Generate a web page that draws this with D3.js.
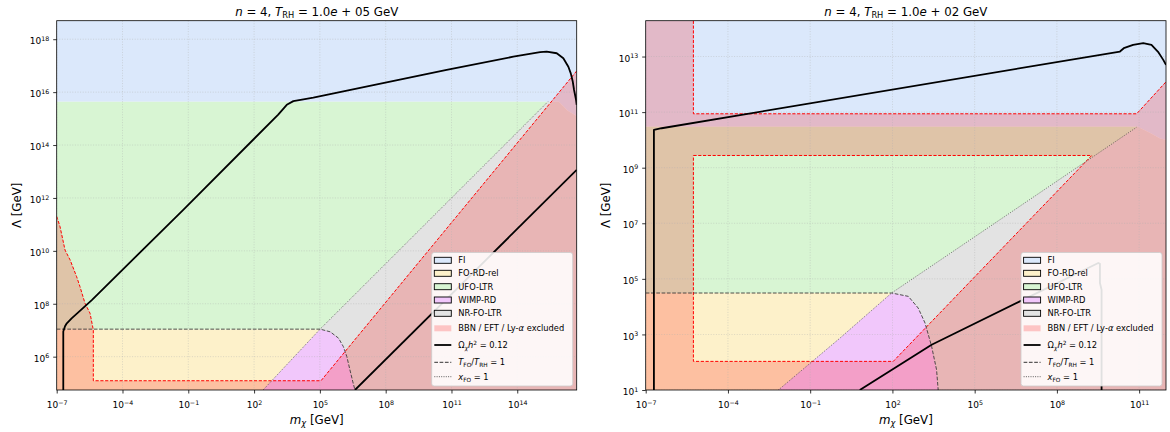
<!DOCTYPE html>
<html lang="en">
<head>
<meta charset="UTF-8"/>
<title>DM production regimes, n = 4</title>
<script src="https://d3js.org/d3.v7.min.js"></script>
<style>
    body { margin: 0; background: #fff; }
    svg text { font-family: "DejaVu Sans", sans-serif; white-space: pre; fill: #000; }
</style>
</head>
<body>
<script>
// every point is [log10(m_chi / GeV), log10(Lambda / GeV)]

// ---- left panel, T_RH = 1e5 GeV
var xDomL = [-7, 16.71];
var yDomL = [4.74, 18.70];
var xTicksL = [-7, -4, -1, 2, 5, 8, 11, 14];
var yTicksL = [6, 8, 10, 12, 14, 16, 18];
var fiL = [[-7, 18.7], [16.71, 18.7], [16.71, 15.1], [16.3, 15.3], [15.9, 15.64], [-7, 15.64]];
var ufoL = [[-7, 15.64], [15.4, 15.64], [5.01, 7.04], [-7, 7.04]];
var foL = [[-7, 7.04], [5.01, 7.04], [2.41, 4.74], [-7, 4.74]];
var wimpL = [[2.41, 4.74], [5.01, 7.04], [5.47, 6.94], [5.85, 6.70], [6.07, 6.38], [6.23, 6.0], [6.37, 5.5], [6.52, 4.99], [6.60, 4.74]];
var nrL = [[5.01, 7.04], [15.4, 15.64], [15.9, 15.64], [16.3, 15.3], [16.71, 15.1], [16.71, 4.74],
           [6.60, 4.74], [6.52, 4.99], [6.37, 5.5], [6.23, 6.0], [6.07, 6.38], [5.85, 6.70], [5.47, 6.94]];
var exclEdgeL = [[-7, 11.3], [-6.97, 11.23], [-6.85, 10.92], [-6.62, 10.03], [-6.39, 9.66], [-6.09, 9.02],
                 [-5.94, 8.65], [-5.71, 8.02], [-5.48, 7.64], [-5.33, 7.01], [-5.33, 5.09], [5.05, 5.09],
                 [16.71, 16.80]];
var allowedL = exclEdgeL.concat([[16.71, 18.7], [-7, 18.7]]);
var dottedL = [[2.41, 4.74], [5.01, 7.04], [15.4, 15.64]];
var dashedL = [[-7, 7.04], [5.01, 7.04], [5.47, 6.94], [5.85, 6.70], [6.07, 6.38], [6.23, 6.0], [6.37, 5.5], [6.52, 4.99], [6.60, 4.74]];
var omegaL = [[-6.70, 4.74], [-6.70, 6.95], [-6.62, 7.15], [-6.54, 7.26], [-6.32, 7.45], [-5.40, 8.14], [-1.23, 11.55],
              [3.1, 15.15], [3.49, 15.52], [3.79, 15.66], [4.25, 15.73], [4.70, 15.79], [10.78, 16.84], [13.82, 17.34],
              [15.04, 17.51], [15.34, 17.53], [15.80, 17.47], [16.10, 17.28], [16.33, 16.96], [16.44, 16.71],
              [16.53, 16.40], [16.59, 16.08], [16.68, 15.71], [16.71, 15.52]];
var omegaL2 = [[6.60, 4.74], [16.71, 13.06]];

// ---- right panel, T_RH = 1e2 GeV
var xDomR = [-7, 11.98];
var yDomR = [1, 14.29];
var xTicksR = [-7, -4, -1, 2, 5, 8, 11];
var yTicksR = [1, 3, 5, 7, 9, 11, 13];
var fiR = [[-7, 14.29], [11.98, 14.29], [11.98, 10.0], [11.75, 10.06], [11.39, 10.26], [10.95, 10.47], [-7, 10.47]];
var ufoR = [[-7, 10.47], [10.95, 10.47], [1.97, 4.49], [-7, 4.49]];
var foR = [[-7, 4.49], [1.97, 4.49], [0.09, 2.87], [-2.16, 1], [-7, 1]];
var wimpR = [[-2.16, 1], [0.09, 2.87], [1.97, 4.49], [2.58, 4.37], [2.94, 3.95], [3.19, 3.41], [3.43, 2.57], [3.61, 1.73], [3.67, 1]];
var nrR = [[1.97, 4.49], [10.95, 10.47], [11.39, 10.26], [11.75, 10.06], [11.98, 10.0], [11.98, 1],
           [3.67, 1], [3.61, 1.73], [3.43, 2.57], [3.19, 3.41], [2.94, 3.95], [2.58, 4.37]];
var exclEdgeRA = [[-5.26, 14.29], [-5.26, 10.94], [10.91, 10.94], [11.98, 12.09]];
var exclEdgeRB = [[-5.26, 9.44], [9.27, 9.44], [2.03, 2.03], [-5.26, 2.03], [-5.26, 9.44]];
var allowedR = exclEdgeRA.concat([[11.98, 14.29]]);
var dottedR = [[-2.16, 1], [0.09, 2.87], [1.97, 4.49], [10.9, 10.45]];
var dashedR = [[-7, 4.49], [1.97, 4.49], [2.58, 4.37], [2.94, 3.95], [3.19, 3.41], [3.43, 2.57], [3.61, 1.73], [3.67, 1]];
var omegaR = [[-6.70, 1], [-6.70, 10.36], [-6.42, 10.42], [10.30, 13.18], [10.44, 13.30], [10.78, 13.42],
              [11.15, 13.48], [11.45, 13.42], [11.69, 13.17], [11.88, 12.88], [11.98, 12.70]];
var omegaR2 = [[0.81, 1], [3.43, 2.63], [6.65, 4.19], [9.51, 5.57], [9.57, 5.54], [9.57, 4.85], [9.63, 4.61], [9.63, 1]];

var regionNames = ["FI", "FO-RD-rel", "UFO-LTR", "WIMP-RD", "NR-FO-LTR"];

// styles
var col = {
    fi: "#dbe8fb", fo: "#fdf1ca", ufo: "#d8f5d3", wimp: "#f1c7fb", nr: "#e3e3e3",
    excl: "rgba(255,0,0,0.2)"
};
var regionCols = [col.fi, col.fo, col.ufo, col.wimp, col.nr];

var svg = d3.select("body").append("svg").attr("width", 1170).attr("height", 432);

// text with italic / subscript / superscript runs
function runs(text, list, size) {
    var shift = 0;
    list.forEach(function (r) {
        var k = r[1] || "";
        var ts = text.append("tspan").text(r[0]);
        if (k.indexOf("i") >= 0) ts.attr("font-style", "italic");
        var want = k.indexOf("b") >= 0 ? size * 0.22 : (k.indexOf("p") >= 0 ? -size * 0.38 : 0);
        if (want !== shift) { ts.attr("dy", want - shift); shift = want; }
        if (want !== 0) ts.attr("font-size", size * 0.7);
    });
}

function powLabel(text, e, size) {
    var s = e < 0 ? "\u2212" + (-e) : "" + e;
    runs(text, [["10"], [s, "p"]], size);
}

function drawPanel(p) {
    var x = d3.scaleLog().domain(p.xDom.map(function (e) { return Math.pow(10, e); })).range([p.left, p.right]);
    var y = d3.scaleLog().domain(p.yDom.map(function (e) { return Math.pow(10, e); })).range([p.bottom, p.top]);
    var line = d3.line()
        .x(function (d) { return x(Math.pow(10, d[0])); })
        .y(function (d) { return y(Math.pow(10, d[1])); });

    svg.append("clipPath").attr("id", "clip" + p.id)
        .append("rect")
        .attr("x", p.left).attr("y", p.top)
        .attr("width", p.right - p.left).attr("height", p.bottom - p.top);

    var plot = svg.append("g").attr("clip-path", "url(#clip" + p.id + ")");

    p.regions.forEach(function (r, i) {
        plot.append("path").attr("d", line(r) + "Z").attr("fill", regionCols[i]);
    });

    // excluded area = whole frame minus the allowed windows
    var frame = "M" + p.left + "," + p.top + "H" + p.right + "V" + p.bottom + "H" + p.left + "Z";
    plot.append("path")
        .attr("d", frame + p.allowed.map(function (a) { return line(a) + "Z"; }).join(""))
        .attr("fill-rule", "evenodd")
        .attr("fill", col.excl);

    // grid
    p.xTicks.forEach(function (e) {
        plot.append("line")
            .attr("x1", x(Math.pow(10, e))).attr("x2", x(Math.pow(10, e)))
            .attr("y1", p.top).attr("y2", p.bottom)
            .attr("stroke", "#b0b0b0").attr("stroke-width", 0.8)
            .attr("stroke-dasharray", "1,1.6").attr("opacity", 0.55);
    });
    p.yTicks.forEach(function (e) {
        plot.append("line")
            .attr("y1", y(Math.pow(10, e))).attr("y2", y(Math.pow(10, e)))
            .attr("x1", p.left).attr("x2", p.right)
            .attr("stroke", "#b0b0b0").attr("stroke-width", 0.8)
            .attr("stroke-dasharray", "1,1.6").attr("opacity", 0.55);
    });

    p.edges.forEach(function (e) {
        plot.append("path").attr("d", line(e)).attr("fill", "none")
            .attr("stroke", "#ff0000").attr("stroke-width", 1)
            .attr("stroke-dasharray", "3.2,1.6");
    });

    plot.append("path").attr("d", line(p.dotted)).attr("fill", "none")
        .attr("stroke", "#333").attr("stroke-width", 0.8).attr("stroke-dasharray", "1,1.3").attr("opacity", 0.85);
    plot.append("path").attr("d", line(p.dashed)).attr("fill", "none")
        .attr("stroke", "#333").attr("stroke-width", 1).attr("stroke-dasharray", "3.7,1.6").attr("opacity", 0.85);

    p.omega.forEach(function (o) {
        plot.append("path").attr("d", line(o)).attr("fill", "none")
            .attr("stroke", "#000").attr("stroke-width", 1.8).attr("stroke-linejoin", "round");
    });

    // legend
    var lg = svg.append("g").attr("transform", "translate(" + (p.right - 145) + "," + (p.bottom - 137.5) + ")");
    lg.append("rect").attr("width", 141).attr("height", 133.5).attr("rx", 2.5)
        .attr("fill", "#fff").attr("fill-opacity", 0.88)
        .attr("stroke", "#cccccc").attr("stroke-width", 0.8);
    var rowY = [7.8, 20.8, 34.2, 47.5, 60.8, 75.8, 92.5, 109.8, 124.2];
    var labels = [
        [[regionNames[0]]], [[regionNames[1]]], [[regionNames[2]]], [[regionNames[3]]], [[regionNames[4]]],
        [["BBN / EFT / Ly-"], ["\u03b1", "i"], [" excluded"]],
        [["\u03a9"], ["\u03c7", "ib"], ["h", "i"], ["2", "p"], [" = 0.12"]],
        [["T", "i"], ["FO", "b"], ["/"], ["T", "i"], ["RH", "b"], [" = 1"]],
        [["x", "i"], ["FO", "b"], [" = 1"]]
    ];
    rowY.forEach(function (cy, i) {
        if (i < 5) {
            lg.append("rect").attr("x", 2.6).attr("y", cy - 3).attr("width", 17).attr("height", 6)
                .attr("fill", regionCols[i]).attr("stroke", "#000").attr("stroke-width", 0.9);
        } else if (i === 5) {
            lg.append("rect").attr("x", 2.6).attr("y", cy - 3).attr("width", 17).attr("height", 6)
                .attr("fill", col.excl);
        } else {
            var ln = lg.append("line").attr("x1", 2.6).attr("x2", 19.6).attr("y1", cy).attr("y2", cy)
                .attr("stroke", i === 6 ? "#000" : "#333");
            if (i === 6) ln.attr("stroke-width", 1.8);
            if (i === 7) ln.attr("stroke-width", 1).attr("stroke-dasharray", "3.7,1.6");
            if (i === 8) ln.attr("stroke-width", 0.8).attr("stroke-dasharray", "1,1.3");
        }
        var t = lg.append("text").attr("x", 26.6).attr("y", cy + 3).attr("font-size", 8.3);
        runs(t, labels[i], 8.3);
    });

    // axes
    var gx = svg.append("g").attr("transform", "translate(0," + p.bottom + ")")
        .call(d3.axisBottom(x).tickValues(p.xTicks.map(function (e) { return Math.pow(10, e); }))
            .tickSize(3.5).tickFormat(""));
    gx.select(".domain").remove();
    gx.selectAll(".tick line").attr("stroke", "#000").attr("stroke-width", 0.8);
    gx.selectAll(".tick text").remove();
    gx.selectAll(".tick").each(function (d) {
        var t = d3.select(this).append("text").attr("y", 18.2).attr("text-anchor", "middle").attr("font-size", 9);
        powLabel(t, Math.round(Math.log10(d)), 9);
    });

    var gy = svg.append("g").attr("transform", "translate(" + p.left + ",0)")
        .call(d3.axisLeft(y).tickValues(p.yTicks.map(function (e) { return Math.pow(10, e); }))
            .tickSize(3.5).tickFormat(""));
    gy.select(".domain").remove();
    gy.selectAll(".tick line").attr("stroke", "#000").attr("stroke-width", 0.8);
    gy.selectAll(".tick text").remove();
    gy.selectAll(".tick").each(function (d) {
        var t = d3.select(this).append("text").attr("x", -7.5).attr("y", 4.7).attr("text-anchor", "end").attr("font-size", 9);
        powLabel(t, Math.round(Math.log10(d)), 9);
    });

    svg.append("rect")
        .attr("x", p.left).attr("y", p.top)
        .attr("width", p.right - p.left).attr("height", p.bottom - p.top)
        .attr("fill", "none").attr("stroke", "#000").attr("stroke-width", 0.8);

    var cx = (p.left + p.right) / 2;
    var title = svg.append("text").attr("x", cx).attr("y", 15.5).attr("text-anchor", "middle").attr("font-size", 11.8);
    runs(title, [["n", "i"], [" = 4, "], ["T", "i"], ["RH", "b"], [" = 1.0"], ["e", "i"], [" + " + p.trh + " GeV"]], 11.8);

    var xl = svg.append("text").attr("x", cx).attr("y", 423.5).attr("text-anchor", "middle").attr("font-size", 11.8);
    runs(xl, [["m", "i"], ["\u03c7", "ib"], [" [GeV]"]], 11.8);

    svg.append("text")
        .attr("transform", "translate(" + (p.left - 35.5) + "," + ((p.top + p.bottom) / 2) + ") rotate(-90)")
        .attr("text-anchor", "middle").attr("font-size", 11.8)
        .text("\u039b [GeV]");
}

drawPanel({
    id: "L", trh: "05", left: 56.7, right: 576.7, top: 20.7, bottom: 390,
    xDom: xDomL, yDom: yDomL, xTicks: xTicksL, yTicks: yTicksL,
    regions: [fiL, foL, ufoL, wimpL, nrL],
    allowed: [allowedL], edges: [exclEdgeL],
    dotted: dottedL, dashed: dashedL, omega: [omegaL, omegaL2]
});

drawPanel({
    id: "R", trh: "02", left: 645.7, right: 1166, top: 20.7, bottom: 390,
    xDom: xDomR, yDom: yDomR, xTicks: xTicksR, yTicks: yTicksR,
    regions: [fiR, foR, ufoR, wimpR, nrR],
    allowed: [allowedR, exclEdgeRB], edges: [exclEdgeRA, exclEdgeRB],
    dotted: dottedR, dashed: dashedR, omega: [omegaR, omegaR2]
});
</script>
</body>
</html>
